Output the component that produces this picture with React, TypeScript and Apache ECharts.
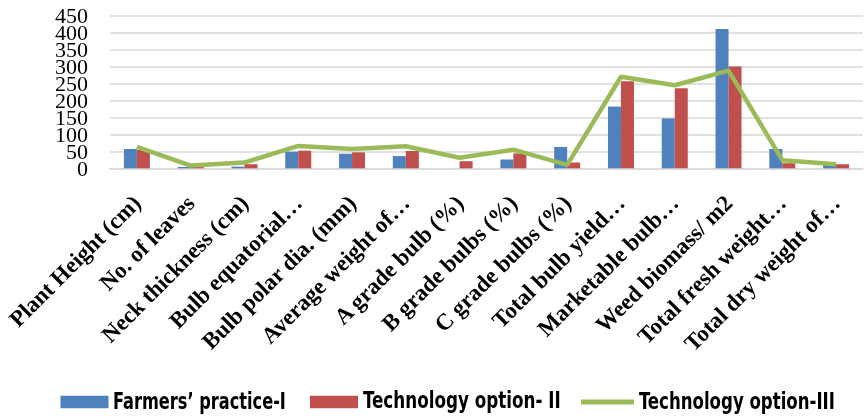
import React, { useEffect, useRef } from "react";
import * as echarts from "echarts";

const categories = [
  "Plant Height (cm)",
  "No. of leaves",
  "Neck thickness (cm)",
  "Bulb equatorial…",
  "Bulb polar dia. (mm)",
  "Average weight of…",
  "A grade bulb (%)",
  "B grade bulbs (%)",
  "C grade bulbs (%)",
  "Total bulb yield…",
  "Marketable bulb…",
  "Weed biomass/ m2",
  "Total fresh weight…",
  "Total dry weight of…",
];

const seriesNames = ["Farmers’ practice-I", "Technology option- II", "Technology option-III"];
const farmersPractice = [57, 4, 5, 49, 43, 36, 0, 26, 63, 182, 147, 411, 57, 17];
const technologyOption2 = [54, 5, 12, 52, 47, 51, 21, 44, 17, 257, 236, 300, 15, 12];
const technologyOption3 = [63, 8, 17, 66, 57, 65, 31, 55, 10, 270, 245, 288, 24, 12];

const yTicks = { min: 0, max: 450, interval: 50 };

const colors = ["#4F81BD", "#C0504D", "#9BBB59"];

export default function App() {
  const ref = useRef<HTMLDivElement>(null);
  useEffect(() => {
    const chart = echarts.init(ref.current!, undefined, { renderer: "svg" });
    const legendIconX = [60.5, 310, 581];
    const legendTextX = [113, 363, 639];
    const legendTextW = [173, 198, 196];
    const legendFont = "bold 23px 'DejaVu Sans Condensed'";
    const measure = (t: string) => {
      const c = document.createElement("canvas").getContext("2d")!;
      c.font = legendFont;
      return c.measureText(t).width;
    };
    // Two overlaid value axes share the same scale; each shows every other label
    const yAxisFor = (parity: number, main: boolean) => ({
      type: "value",
      position: "left",
      min: yTicks.min,
      max: yTicks.max,
      interval: yTicks.interval,
      axisLine: { show: false },
      axisTick: { show: false },
      splitLine: { show: main, lineStyle: { color: "#d9d9d9", width: 1.5 } },
      axisLabel: {
        margin: 22,
        showMinLabel: true,
        showMaxLabel: true,
        formatter: (v: number) => (Math.round(v / yTicks.interval) % 2 === parity ? String(v) : ""),
        fontFamily: "'Liberation Serif', 'Times New Roman', serif",
        fontSize: 22,
        color: "#000",
      },
    });
    chart.setOption({
      animation: false,
      grid: { left: 110, right: 1, top: 15.7, bottom: 248.7 },
      legend: seriesNames.map((name, i) => ({
        left: legendIconX[i],
        top: i === 2 ? 399.5 : 395.7,
        padding: 0,
        itemWidth: i === 2 ? 53 : 48,
        itemHeight: i === 2 ? 5 : 12.6,
        icon: "rect",
        formatter: () => "",
        textStyle: { fontSize: 4 },
        data: [name],
      })),
      graphic: seriesNames.map((name, i) => ({
        type: "text",
        x: legendTextX[i],
        y: 400.8,
        scaleX: legendTextW[i] / measure(name),
        style: {
          text: name,
          font: legendFont,
          fill: "#000",
          verticalAlign: "middle",
        },
      })),
      xAxis: {
        type: "category",
        data: categories,
        axisLine: { lineStyle: { color: "#d9d9d9", width: 1.5 } },
        axisTick: { show: false },
        axisLabel: {
          interval: 0,
          rotate: 45,
          margin: 31,
          fontFamily: "'Liberation Serif', 'Times New Roman', serif",
          fontWeight: "bold",
          fontSize: 23,
          color: "#000",
        },
      },
      yAxis: [yAxisFor(0, true), yAxisFor(1, false)],
      series: [
        {
          name: seriesNames[0],
          type: "bar",
          data: farmersPractice,
          barWidth: 13,
          barGap: "0%",
          itemStyle: { color: colors[0] },
        },
        {
          name: seriesNames[1],
          type: "bar",
          data: technologyOption2,
          barWidth: 13,
          barGap: "0%",
          itemStyle: { color: colors[1] },
        },
        {
          name: seriesNames[2],
          type: "line",
          data: technologyOption3,
          showSymbol: false,
          symbol: "none",
          lineStyle: { color: colors[2], width: 4.5 },
          itemStyle: { color: colors[2] },
        },
      ],
    });
    return () => chart.dispose();
  }, []);
  return (
    <div
      ref={ref}
      style={{ position: "fixed", left: 0, top: 0, width: 864, height: 417 }}
    />
  );
}
